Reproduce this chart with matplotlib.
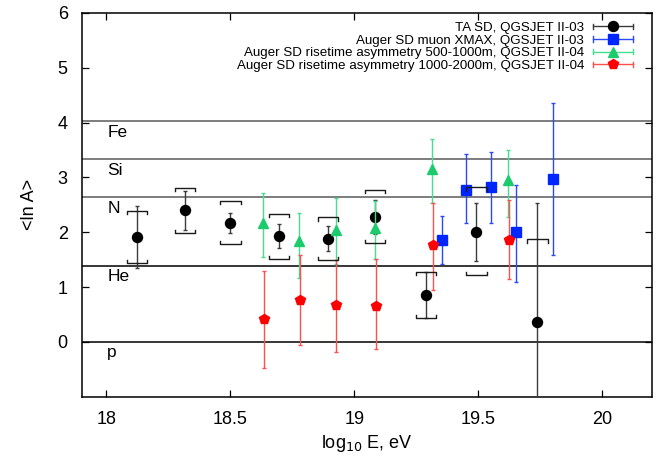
import matplotlib
matplotlib.use('Agg')
import matplotlib.pyplot as plt
from matplotlib.legend_handler import HandlerBase
from matplotlib.lines import Line2D

plt.rcParams['font.family'] = ['Liberation Sans', 'DejaVu Sans']

# ---------------- data ----------------
# TA SD, QGSJET II-03
ta_x = [18.124, 18.317, 18.500, 18.695, 18.892, 19.084, 19.288, 19.492, 19.738]
ta_y = [1.91, 2.40, 2.17, 1.93, 1.88, 2.28, 0.86, 2.01, 0.37]
ta_stat_hi = [2.47, 2.75, 2.35, 2.15, 2.11, 2.59, 1.27, 2.53, 2.54]
ta_stat_lo = [1.35, 2.04, 1.99, 1.71, 1.65, 1.96, 0.43, 1.47, -1.6]
ta_sys_hi = [2.39, 2.81, 2.57, 2.34, 2.27, 2.77, 1.28, 2.82, 1.87]
ta_sys_lo = [1.44, 1.98, 1.78, 1.51, 1.49, 1.80, 0.43, 1.22, -1.6]

# Auger SD muon XMAX, QGSJET II-03
mu_x = [19.351, 19.450, 19.550, 19.651, 19.799]
mu_y = [1.85, 2.78, 2.82, 2.00, 2.97]
mu_hi = [2.29, 3.42, 3.46, 2.87, 4.35]
mu_lo = [1.42, 2.16, 2.17, 1.10, 1.58]

# Auger SD risetime asymmetry 500-1000m, QGSJET II-04
g_x = [18.632, 18.777, 18.924, 19.081, 19.312, 19.618]
g_y = [2.17, 1.84, 2.04, 2.07, 3.16, 2.95]
g_hi = [2.72, 2.35, 2.63, 2.57, 3.71, 3.50]
g_lo = [1.55, 1.17, 1.43, 1.52, 2.53, 2.28]

# Auger SD risetime asymmetry 1000-2000m, QGSJET II-04
r_x = [18.635, 18.779, 18.926, 19.087, 19.315, 19.625]
r_y = [0.42, 0.77, 0.67, 0.65, 1.77, 1.86]
r_hi = [1.29, 1.59, 1.50, 1.52, 2.53, 2.59]
r_lo = [-0.48, -0.06, -0.18, -0.13, 0.94, 1.14]

elements = ['p', 'He', 'N', 'Si', 'Fe']
elem_lnA = [0.0, 1.386, 2.639, 3.332, 4.025]

labels = ['TA SD, QGSJET II-03',
          'Auger SD muon XMAX, QGSJET II-03',
          'Auger SD risetime asymmetry 500-1000m, QGSJET II-04',
          'Auger SD risetime asymmetry 1000-2000m, QGSJET II-04']

# ---------------- figure ----------------
fig = plt.figure(figsize=(6.63, 4.59), dpi=100)
ax = fig.add_axes([0.1232, 0.1357, 0.8603, 0.8360])
ax.set_xlim(17.9, 20.2)
ax.set_ylim(-1, 6)

# element lines
for name, v in zip(elements, elem_lnA):
    col = '#000000' if name in ('p', 'He') else '#5a5a5a'
    ax.axhline(v, color=col, lw=1.1, zorder=1)
    ax.text(18.003, v - 0.2, name, fontsize=12.5, ha='left', va='center', zorder=2)


def err(y, hi, lo):
    return [[a - b for a, b in zip(y, lo)], [h - a for a, h in zip(y, hi)]]


styles = [
    dict(mc='#000000', ec='#3c3c3c', marker='o', ms=7.2),
    dict(mc='#0026ff', ec='#2a48ff', marker='s', ms=7.6),
    dict(mc='#1ccb6c', ec='#44e08e', marker='^', ms=7.6),
    dict(mc='#ff0000', ec='#ff5050', marker='p', ms=7.6),
]
series = [(ta_x, ta_y, ta_stat_hi, ta_stat_lo),
          (mu_x, mu_y, mu_hi, mu_lo),
          (g_x, g_y, g_hi, g_lo),
          (r_x, r_y, r_hi, r_lo)]

draw_order = [2, 3, 1, 0]
for i in draw_order:
    x, y, hi, lo = series[i]
    st = styles[i]
    ax.errorbar(x, y, yerr=err(y, hi, lo), fmt=st['marker'], ms=st['ms'],
                color=st['mc'], mec=st['mc'], mfc=st['mc'], ecolor=st['ec'],
                elinewidth=1.0, capsize=1.6, capthick=1.0, zorder=3 + i)

# systematic brackets for TA
bw = 0.041
bt = 0.06
for x, sh, sl in zip(ta_x, ta_sys_hi, ta_sys_lo):
    ax.plot([x - bw, x - bw, x + bw, x + bw], [sh - bt, sh, sh, sh - bt],
            color='#1a1a1a', lw=1.0, zorder=8, clip_on=True)
    ax.plot([x - bw, x - bw, x + bw, x + bw], [sl + bt, sl, sl, sl + bt],
            color='#1a1a1a', lw=1.0, zorder=8, clip_on=True)

ax.set_xticks([18, 18.5, 19, 19.5, 20])
ax.set_xticklabels(['18', '18.5', '19', '19.5', '20'])
ax.set_yticks([0, 1, 2, 3, 4, 5, 6])
ax.tick_params(direction='in', length=5, width=0.9, top=True, right=True,
               labelsize=13)
ax.tick_params(axis='x', pad=10)
ax.tick_params(axis='y', pad=10)
for s in ax.spines.values():
    s.set_linewidth(1.1)

ax.set_xlabel('log$_{10}$ E, eV', fontsize=13, labelpad=4)
ax.set_ylabel('<ln A>', fontsize=13, labelpad=14)


class GnuHandler(HandlerBase):
    def __init__(self, st):
        super().__init__()
        self.st = st

    def create_artists(self, legend, orig_handle, xdescent, ydescent,
                       width, height, fontsize, trans):
        y = height / 2 - ydescent
        x0 = -xdescent
        x1 = x0 + width
        c = height * 0.28
        art = [
            Line2D([x0, x1], [y, y], color=self.st['ec'], lw=1.0),
            Line2D([x0, x0], [y - c, y + c], color=self.st['ec'], lw=1.0),
            Line2D([x1, x1], [y - c, y + c], color=self.st['ec'], lw=1.0),
            Line2D([(x0 + x1) / 2], [y], marker=self.st['marker'],
                   ms=self.st['ms'], color=self.st['mc'], ls='none'),
        ]
        for a in art:
            a.set_transform(trans)
        return art


proxies = [Line2D([], []) for _ in labels]
hmap = {p: GnuHandler(st) for p, st in zip(proxies, styles)}
leg = ax.legend(proxies, labels, handler_map=hmap, loc='upper right',
                bbox_to_anchor=(0.967, 0.977), frameon=False, fontsize=9.6,
                markerfirst=False, handlelength=3.0, handletextpad=0.7,
                labelspacing=0.02, borderpad=0, borderaxespad=0)

fig.savefig('out.png', dpi=100)
